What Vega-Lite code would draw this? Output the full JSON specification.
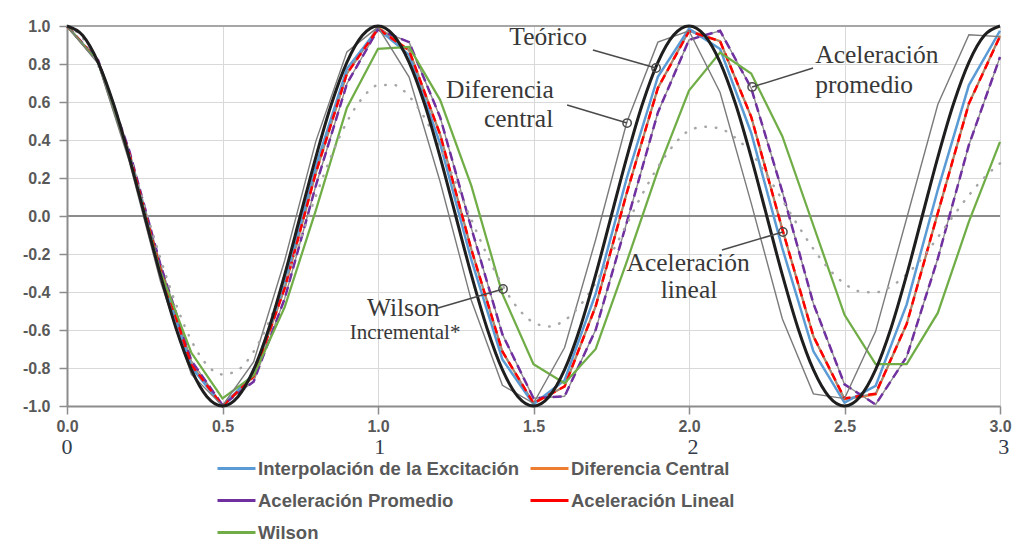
{
  "$schema": "https://vega.github.io/schema/vega-lite/v6.json",
  "width": 933,
  "height": 380,
  "autosize": {"type": "none"},
  "padding": {"left": 67, "top": 26, "right": 18, "bottom": 146},
  "background": "white",
  "config": {"view": {"stroke": null}},
  "datasets": {
    "metodos": [
      {"s":"Diferencia Central","t":0,"v":1},{"s":"Diferencia Central","t":0.1,"v":0.815},{"s":"Diferencia Central","t":0.2,"v":0.329},{"s":"Diferencia Central","t":0.3,"v":-0.279},{"s":"Diferencia Central","t":0.4,"v":-0.784},{"s":"Diferencia Central","t":0.5,"v":-0.999},{"s":"Diferencia Central","t":0.6,"v":-0.845},{"s":"Diferencia Central","t":0.7,"v":-0.38},{"s":"Diferencia Central","t":0.8,"v":0.227},{"s":"Diferencia Central","t":0.9,"v":0.749},{"s":"Diferencia Central","t":1,"v":0.994},{"s":"Diferencia Central","t":1.1,"v":0.872},{"s":"Diferencia Central","t":1.2,"v":0.428},{"s":"Diferencia Central","t":1.3,"v":-0.175},{"s":"Diferencia Central","t":1.4,"v":-0.713},{"s":"Diferencia Central","t":1.5,"v":-0.987},{"s":"Diferencia Central","t":1.6,"v":-0.897},{"s":"Diferencia Central","t":1.7,"v":-0.475},{"s":"Diferencia Central","t":1.8,"v":0.122},{"s":"Diferencia Central","t":1.9,"v":0.674},{"s":"Diferencia Central","t":2,"v":0.977},{"s":"Diferencia Central","t":2.1,"v":0.92},{"s":"Diferencia Central","t":2.2,"v":0.522},{"s":"Diferencia Central","t":2.3,"v":-0.069},{"s":"Diferencia Central","t":2.4,"v":-0.633},{"s":"Diferencia Central","t":2.5,"v":-0.965},{"s":"Diferencia Central","t":2.6,"v":-0.939},{"s":"Diferencia Central","t":2.7,"v":-0.568},{"s":"Diferencia Central","t":2.8,"v":0.015},{"s":"Diferencia Central","t":2.9,"v":0.592},{"s":"Diferencia Central","t":3,"v":0.949},
      {"s":"Interpolación de la Excitación","t":0,"v":1},{"s":"Interpolación de la Excitación","t":0.1,"v":0.813},{"s":"Interpolación de la Excitación","t":0.2,"v":0.321},{"s":"Interpolación de la Excitación","t":0.3,"v":-0.291},{"s":"Interpolación de la Excitación","t":0.4,"v":-0.795},{"s":"Interpolación de la Excitación","t":0.5,"v":-1},{"s":"Interpolación de la Excitación","t":0.6,"v":-0.831},{"s":"Interpolación de la Excitación","t":0.7,"v":-0.35},{"s":"Interpolación de la Excitación","t":0.8,"v":0.261},{"s":"Interpolación de la Excitación","t":0.9,"v":0.775},{"s":"Interpolación de la Excitación","t":1,"v":0.985},{"s":"Interpolación de la Excitación","t":1.1,"v":0.848},{"s":"Interpolación de la Excitación","t":1.2,"v":0.38},{"s":"Interpolación de la Excitación","t":1.3,"v":-0.23},{"s":"Interpolación de la Excitación","t":1.4,"v":-0.755},{"s":"Interpolación de la Excitación","t":1.5,"v":-0.99},{"s":"Interpolación de la Excitación","t":1.6,"v":-0.864},{"s":"Interpolación de la Excitación","t":1.7,"v":-0.409},{"s":"Interpolación de la Excitación","t":1.8,"v":0.2},{"s":"Interpolación de la Excitación","t":1.9,"v":0.733},{"s":"Interpolación de la Excitación","t":2,"v":0.985},{"s":"Interpolación de la Excitación","t":2.1,"v":0.879},{"s":"Interpolación de la Excitación","t":2.2,"v":0.437},{"s":"Interpolación de la Excitación","t":2.3,"v":-0.169},{"s":"Interpolación de la Excitación","t":2.4,"v":-0.712},{"s":"Interpolación de la Excitación","t":2.5,"v":-0.982},{"s":"Interpolación de la Excitación","t":2.6,"v":-0.894},{"s":"Interpolación de la Excitación","t":2.7,"v":-0.465},{"s":"Interpolación de la Excitación","t":2.8,"v":0.138},{"s":"Interpolación de la Excitación","t":2.9,"v":0.689},{"s":"Interpolación de la Excitación","t":3,"v":0.975},
      {"s":"Aceleración Promedio","t":0,"v":1},{"s":"Aceleración Promedio","t":0.1,"v":0.82},{"s":"Aceleración Promedio","t":0.2,"v":0.345},{"s":"Aceleración Promedio","t":0.3,"v":-0.253},{"s":"Aceleración Promedio","t":0.4,"v":-0.762},{"s":"Aceleración Promedio","t":0.5,"v":-0.995},{"s":"Aceleración Promedio","t":0.6,"v":-0.872},{"s":"Aceleración Promedio","t":0.7,"v":-0.435},{"s":"Aceleración Promedio","t":0.8,"v":0.159},{"s":"Aceleración Promedio","t":0.9,"v":0.696},{"s":"Aceleración Promedio","t":1,"v":0.982},{"s":"Aceleración Promedio","t":1.1,"v":0.915},{"s":"Aceleración Promedio","t":1.2,"v":0.519},{"s":"Aceleración Promedio","t":1.3,"v":-0.063},{"s":"Aceleración Promedio","t":1.4,"v":-0.623},{"s":"Aceleración Promedio","t":1.5,"v":-0.959},{"s":"Aceleración Promedio","t":1.6,"v":-0.949},{"s":"Aceleración Promedio","t":1.7,"v":-0.599},{"s":"Aceleración Promedio","t":1.8,"v":-0.033},{"s":"Aceleración Promedio","t":1.9,"v":0.545},{"s":"Aceleración Promedio","t":2,"v":0.927},{"s":"Aceleración Promedio","t":2.1,"v":0.975},{"s":"Aceleración Promedio","t":2.2,"v":0.673},{"s":"Aceleración Promedio","t":2.3,"v":0.129},{"s":"Aceleración Promedio","t":2.4,"v":-0.461},{"s":"Aceleración Promedio","t":2.5,"v":-0.886},{"s":"Aceleración Promedio","t":2.6,"v":-0.992},{"s":"Aceleración Promedio","t":2.7,"v":-0.741},{"s":"Aceleración Promedio","t":2.8,"v":-0.224},{"s":"Aceleración Promedio","t":2.9,"v":0.374},{"s":"Aceleración Promedio","t":3,"v":0.837},
      {"s":"Aceleración Lineal","t":0,"v":1},{"s":"Aceleración Lineal","t":0.1,"v":0.815},{"s":"Aceleración Lineal","t":0.2,"v":0.329},{"s":"Aceleración Lineal","t":0.3,"v":-0.279},{"s":"Aceleración Lineal","t":0.4,"v":-0.784},{"s":"Aceleración Lineal","t":0.5,"v":-0.999},{"s":"Aceleración Lineal","t":0.6,"v":-0.845},{"s":"Aceleración Lineal","t":0.7,"v":-0.38},{"s":"Aceleración Lineal","t":0.8,"v":0.227},{"s":"Aceleración Lineal","t":0.9,"v":0.749},{"s":"Aceleración Lineal","t":1,"v":0.985},{"s":"Aceleración Lineal","t":1.1,"v":0.872},{"s":"Aceleración Lineal","t":1.2,"v":0.428},{"s":"Aceleración Lineal","t":1.3,"v":-0.175},{"s":"Aceleración Lineal","t":1.4,"v":-0.713},{"s":"Aceleración Lineal","t":1.5,"v":-0.985},{"s":"Aceleración Lineal","t":1.6,"v":-0.897},{"s":"Aceleración Lineal","t":1.7,"v":-0.475},{"s":"Aceleración Lineal","t":1.8,"v":0.122},{"s":"Aceleración Lineal","t":1.9,"v":0.674},{"s":"Aceleración Lineal","t":2,"v":0.972},{"s":"Aceleración Lineal","t":2.1,"v":0.92},{"s":"Aceleración Lineal","t":2.2,"v":0.522},{"s":"Aceleración Lineal","t":2.3,"v":-0.069},{"s":"Aceleración Lineal","t":2.4,"v":-0.633},{"s":"Aceleración Lineal","t":2.5,"v":-0.96},{"s":"Aceleración Lineal","t":2.6,"v":-0.935},{"s":"Aceleración Lineal","t":2.7,"v":-0.568},{"s":"Aceleración Lineal","t":2.8,"v":0.015},{"s":"Aceleración Lineal","t":2.9,"v":0.592},{"s":"Aceleración Lineal","t":3,"v":0.945},
      {"s":"Wilson","t":0,"v":1},{"s":"Wilson","t":0.1,"v":0.81},{"s":"Wilson","t":0.2,"v":0.31},{"s":"Wilson","t":0.3,"v":-0.29},{"s":"Wilson","t":0.4,"v":-0.72},{"s":"Wilson","t":0.5,"v":-0.96},{"s":"Wilson","t":0.6,"v":-0.84},{"s":"Wilson","t":0.7,"v":-0.48},{"s":"Wilson","t":0.8,"v":0.03},{"s":"Wilson","t":0.9,"v":0.57},{"s":"Wilson","t":1,"v":0.88},{"s":"Wilson","t":1.1,"v":0.89},{"s":"Wilson","t":1.2,"v":0.61},{"s":"Wilson","t":1.3,"v":0.16},{"s":"Wilson","t":1.4,"v":-0.41},{"s":"Wilson","t":1.5,"v":-0.78},{"s":"Wilson","t":1.6,"v":-0.88},{"s":"Wilson","t":1.7,"v":-0.7},{"s":"Wilson","t":1.8,"v":-0.24},{"s":"Wilson","t":1.9,"v":0.24},{"s":"Wilson","t":2,"v":0.66},{"s":"Wilson","t":2.1,"v":0.86},{"s":"Wilson","t":2.2,"v":0.75},{"s":"Wilson","t":2.3,"v":0.42},{"s":"Wilson","t":2.4,"v":-0.05},{"s":"Wilson","t":2.5,"v":-0.52},{"s":"Wilson","t":2.6,"v":-0.78},{"s":"Wilson","t":2.7,"v":-0.78},{"s":"Wilson","t":2.8,"v":-0.51},{"s":"Wilson","t":2.9,"v":-0.03},{"s":"Wilson","t":3,"v":0.39}
    ],
    "referencia": [
      {"t":0,"v":1},{"t":0.1,"v":0.802},{"t":0.2,"v":0.288},{"t":0.3,"v":-0.341},{"t":0.4,"v":-0.834},{"t":0.5,"v":-0.998},{"t":0.6,"v":-0.768},{"t":0.7,"v":-0.234},{"t":0.8,"v":0.393},{"t":0.9,"v":0.864},{"t":1,"v":0.994},{"t":1.1,"v":0.731},{"t":1.2,"v":0.179},{"t":1.3,"v":-0.444},{"t":1.4,"v":-0.891},{"t":1.5,"v":-0.986},{"t":1.6,"v":-0.692},{"t":1.7,"v":-0.124},{"t":1.8,"v":0.493},{"t":1.9,"v":0.915},{"t":2,"v":0.975},{"t":2.1,"v":0.65},{"t":2.2,"v":0.068},{"t":2.3,"v":-0.541},{"t":2.4,"v":-0.936},{"t":2.5,"v":-0.961},{"t":2.6,"v":-0.607},{"t":2.7,"v":-0.012},{"t":2.8,"v":0.587},{"t":2.9,"v":0.954},{"t":3,"v":0.944}
    ],
    "incremental": [
      {"t":0,"v":1},{"t":0.05,"v":0.938},{"t":0.1,"v":0.793},{"t":0.15,"v":0.583},{"t":0.2,"v":0.327},{"t":0.25,"v":0.05},{"t":0.3,"v":-0.221},{"t":0.35,"v":-0.463},{"t":0.4,"v":-0.656},{"t":0.45,"v":-0.784},{"t":0.5,"v":-0.834},{"t":0.55,"v":-0.81},{"t":0.6,"v":-0.714},{"t":0.65,"v":-0.555},{"t":0.7,"v":-0.35},{"t":0.75,"v":-0.126},{"t":0.8,"v":0.104},{"t":0.85,"v":0.317},{"t":0.9,"v":0.495},{"t":0.95,"v":0.621},{"t":1,"v":0.688},{"t":1.05,"v":0.69},{"t":1.1,"v":0.63},{"t":1.15,"v":0.516},{"t":1.2,"v":0.359},{"t":1.25,"v":0.175},{"t":1.3,"v":-0.018},{"t":1.35,"v":-0.203},{"t":1.4,"v":-0.364},{"t":1.45,"v":-0.486},{"t":1.5,"v":-0.56},{"t":1.55,"v":-0.581},{"t":1.6,"v":-0.549},{"t":1.65,"v":-0.47},{"t":1.7,"v":-0.351},{"t":1.75,"v":-0.201},{"t":1.8,"v":-0.043},{"t":1.85,"v":0.115},{"t":1.9,"v":0.258},{"t":1.95,"v":0.372},{"t":2,"v":0.449},{"t":2.05,"v":0.47},{"t":2.1,"v":0.46},{"t":2.15,"v":0.41},{"t":2.2,"v":0.332},{"t":2.25,"v":0.216},{"t":2.3,"v":0.085},{"t":2.35,"v":-0.049},{"t":2.4,"v":-0.173},{"t":2.45,"v":-0.279},{"t":2.5,"v":-0.356},{"t":2.55,"v":-0.397},{"t":2.6,"v":-0.402},{"t":2.65,"v":-0.37},{"t":2.7,"v":-0.307},{"t":2.75,"v":-0.221},{"t":2.8,"v":-0.112},{"t":2.85,"v":0.001},{"t":2.9,"v":0.109},{"t":2.95,"v":0.203},{"t":3,"v":0.277}
    ],
    "teorico": [
      {"t":0,"v":1},{"t":0.05,"v":0.951},{"t":0.1,"v":0.809},{"t":0.15,"v":0.588},{"t":0.2,"v":0.309},{"t":0.25,"v":0},{"t":0.3,"v":-0.309},{"t":0.35,"v":-0.588},{"t":0.4,"v":-0.809},{"t":0.45,"v":-0.951},{"t":0.5,"v":-1},{"t":0.55,"v":-0.951},{"t":0.6,"v":-0.809},{"t":0.65,"v":-0.588},{"t":0.7,"v":-0.309},{"t":0.75,"v":0},{"t":0.8,"v":0.309},{"t":0.85,"v":0.588},{"t":0.9,"v":0.809},{"t":0.95,"v":0.951},
      {"t":1,"v":1},{"t":1.05,"v":0.951},{"t":1.1,"v":0.809},{"t":1.15,"v":0.588},{"t":1.2,"v":0.309},{"t":1.25,"v":0},{"t":1.3,"v":-0.309},{"t":1.35,"v":-0.588},{"t":1.4,"v":-0.809},{"t":1.45,"v":-0.951},{"t":1.5,"v":-1},{"t":1.55,"v":-0.951},{"t":1.6,"v":-0.809},{"t":1.65,"v":-0.588},{"t":1.7,"v":-0.309},{"t":1.75,"v":0},{"t":1.8,"v":0.309},{"t":1.85,"v":0.588},{"t":1.9,"v":0.809},{"t":1.95,"v":0.951},
      {"t":2,"v":1},{"t":2.05,"v":0.951},{"t":2.1,"v":0.809},{"t":2.15,"v":0.588},{"t":2.2,"v":0.309},{"t":2.25,"v":0},{"t":2.3,"v":-0.309},{"t":2.35,"v":-0.588},{"t":2.4,"v":-0.809},{"t":2.45,"v":-0.951},{"t":2.5,"v":-1},{"t":2.55,"v":-0.951},{"t":2.6,"v":-0.809},{"t":2.65,"v":-0.588},{"t":2.7,"v":-0.309},{"t":2.75,"v":0},{"t":2.8,"v":0.309},{"t":2.85,"v":0.588},{"t":2.9,"v":0.809},{"t":2.95,"v":0.951},{"t":3,"v":1}
    ],
    "guias": [
      {"t":1.691,"v":0.874,"t2":1.894,"v2":0.779},
      {"t":1.608,"v":0.584,"t2":1.801,"v2":0.489},
      {"t":2.399,"v":0.779,"t2":2.203,"v2":0.679},
      {"t":2.106,"v":-0.179,"t2":2.302,"v2":-0.084},
      {"t":1.193,"v":-0.484,"t2":1.402,"v2":-0.384}
    ],
    "notas": [
      {"t":1.547,"v":0.942,"texto":"Teórico"},
      {"t":1.392,"v":0.663,"texto":"Diferencia"},
      {"t":1.452,"v":0.512,"texto":"central"},
      {"t":2.604,"v":0.847,"texto":"Aceleración"},
      {"t":2.563,"v":0.689,"texto":"promedio"},
      {"t":1.997,"v":-0.247,"texto":"Aceleración"},
      {"t":2.0,"v":-0.392,"texto":"lineal"},
      {"t":1.081,"v":-0.484,"texto":"Wilson"}
    ],
    "ejes": [
      {"t":0,"v":-1.218,"texto":"0"},{"t":1.006,"v":-1.218,"texto":"1"},{"t":2.013,"v":-1.218,"texto":"2"},{"t":3.012,"v":-1.218,"texto":"3"}
    ]
  },
  "encoding": {
    "x": {
      "field": "t", "type": "quantitative",
      "scale": {"domain": [0, 3], "nice": false, "zero": false},
      "axis": {
        "title": null, "values": [0, 0.5, 1, 1.5, 2, 2.5, 3], "format": ".1f",
        "labelFlush": false,
        "grid": true, "gridColor": "#d9d9d9", "gridWidth": 1,
        "domainColor": "#8c8c8c", "domainWidth": 2,
        "tickColor": "#8c8c8c", "tickSize": 8, "tickWidth": 1.5,
        "labelFont": "Liberation Sans", "labelFontSize": 16, "labelFontWeight": "bold",
        "labelColor": "#595959", "labelPadding": 4
      }
    },
    "y": {
      "field": "v", "type": "quantitative",
      "scale": {"domain": [-1, 1], "nice": false, "zero": false},
      "axis": {
        "title": null, "values": [-1, -0.8, -0.6, -0.4, -0.2, 0, 0.2, 0.4, 0.6, 0.8, 1],
        "labelExpr": "replace(format(datum.value, '.1f'), '−', '-')",
        "grid": true, "gridColor": "#d9d9d9", "gridWidth": 1,
        "domainColor": "#8c8c8c", "domainWidth": 2,
        "tickColor": "#8c8c8c", "tickSize": 8, "tickWidth": 1.5,
        "labelFont": "Liberation Sans", "labelFontSize": 16, "labelFontWeight": "bold",
        "labelColor": "#595959", "labelPadding": 9
      }
    }
  },
  "layer": [
    {
      "data": {"values": [{"t": 0, "v": 1}, {"t": 3, "v": 1}]},
      "mark": {"type": "line", "color": "#a6a6a6", "strokeWidth": 2}
    },
    {
      "data": {"values": [{"t": 0, "v": 0}, {"t": 3, "v": 0}]},
      "mark": {"type": "line", "color": "#8c8c8c", "strokeWidth": 2}
    },
    {
      "data": {"name": "metodos"},
      "transform": [{"filter": "datum.s === 'Diferencia Central'"}],
      "mark": {"type": "line", "strokeWidth": 2.25},
      "encoding": {
        "color": {
          "field": "s", "type": "nominal",
          "scale": {
            "domain": ["Interpolación de la Excitación", "Diferencia Central", "Aceleración Promedio", "Aceleración Lineal", "Wilson"],
            "range": ["#5B9BD5", "#ED7D31", "#7030A0", "#FF0000", "#70AD47"]
          },
          "legend": {
            "title": null, "orient": "none", "legendX": 149, "legendY": 422,
            "direction": "horizontal", "columns": 2,
            "symbolType": "stroke", "symbolSize": 1444, "symbolStrokeWidth": 3,
            "labelFont": "Liberation Sans", "labelFontSize": 18.5, "labelFontWeight": "bold",
            "labelColor": "#595959", "rowPadding": 2, "columnPadding": 4, "labelOffset": 1,
            "padding": 0, "labelLimit": 400
          }
        }
      }
    },
    {
      "data": {"name": "metodos"},
      "transform": [{"filter": "datum.s === 'Aceleración Promedio' || datum.s === 'Aceleración Lineal'"}],
      "mark": {"type": "line", "color": "#8c8c8c", "strokeWidth": 1.4},
      "encoding": {"detail": {"field": "s"}}
    },
    {
      "data": {"name": "metodos"},
      "transform": [{"filter": "datum.s === 'Interpolación de la Excitación'"}],
      "mark": {"type": "line", "color": "#5B9BD5", "strokeWidth": 2.5}
    },
    {
      "data": {"name": "metodos"},
      "transform": [{"filter": "datum.s === 'Aceleración Promedio'"}],
      "mark": {"type": "line", "color": "#7030A0", "strokeWidth": 2.5, "strokeDash": [9, 5]}
    },
    {
      "data": {"name": "metodos"},
      "transform": [{"filter": "datum.s === 'Aceleración Lineal'"}],
      "mark": {"type": "line", "color": "#FF0000", "strokeWidth": 2.5, "strokeDash": [8, 5]}
    },
    {
      "data": {"name": "metodos"},
      "transform": [{"filter": "datum.s === 'Wilson'"}],
      "mark": {"type": "line", "color": "#70AD47", "strokeWidth": 2.25}
    },
    {
      "data": {"name": "referencia"},
      "mark": {"type": "line", "color": "#7a7a7a", "strokeWidth": 1.4}
    },
    {
      "data": {"name": "incremental"},
      "mark": {"type": "line", "color": "#a6a6a6", "strokeWidth": 2.5, "strokeDash": [0.5, 10], "strokeCap": "round", "interpolate": "monotone"}
    },
    {
      "data": {"name": "teorico"},
      "mark": {"type": "line", "color": "#1e1e1e", "strokeWidth": 3, "interpolate": "monotone"}
    },
    {
      "data": {"name": "guias"},
      "mark": {"type": "rule", "color": "#4a4a4a", "strokeWidth": 1.5},
      "encoding": {"x2": {"field": "t2"}, "y2": {"field": "v2"}}
    },
    {
      "data": {"name": "guias"},
      "mark": {"type": "point", "shape": "circle", "size": 70, "filled": false, "stroke": "#4a4a4a", "strokeWidth": 1.5, "opacity": 1},
      "encoding": {"x": {"field": "t2", "type": "quantitative"}, "y": {"field": "v2", "type": "quantitative"}}
    },
    {
      "data": {"name": "notas"},
      "mark": {"type": "text", "font": "Liberation Serif", "fontSize": 25.5, "color": "#383838", "align": "center", "baseline": "middle"},
      "encoding": {"text": {"field": "texto"}}
    },
    {
      "data": {"values": [{"t": 1.087, "v": -0.616, "texto": "Incremental*"}]},
      "mark": {"type": "text", "font": "Liberation Serif", "fontSize": 21, "color": "#383838", "align": "center", "baseline": "middle"},
      "encoding": {"text": {"field": "texto"}}
    },
    {
      "data": {"name": "ejes"},
      "mark": {"type": "text", "font": "Liberation Serif", "fontSize": 22, "color": "#333b4a", "align": "center", "baseline": "middle"},
      "encoding": {"text": {"field": "texto"}}
    }
  ]
}
